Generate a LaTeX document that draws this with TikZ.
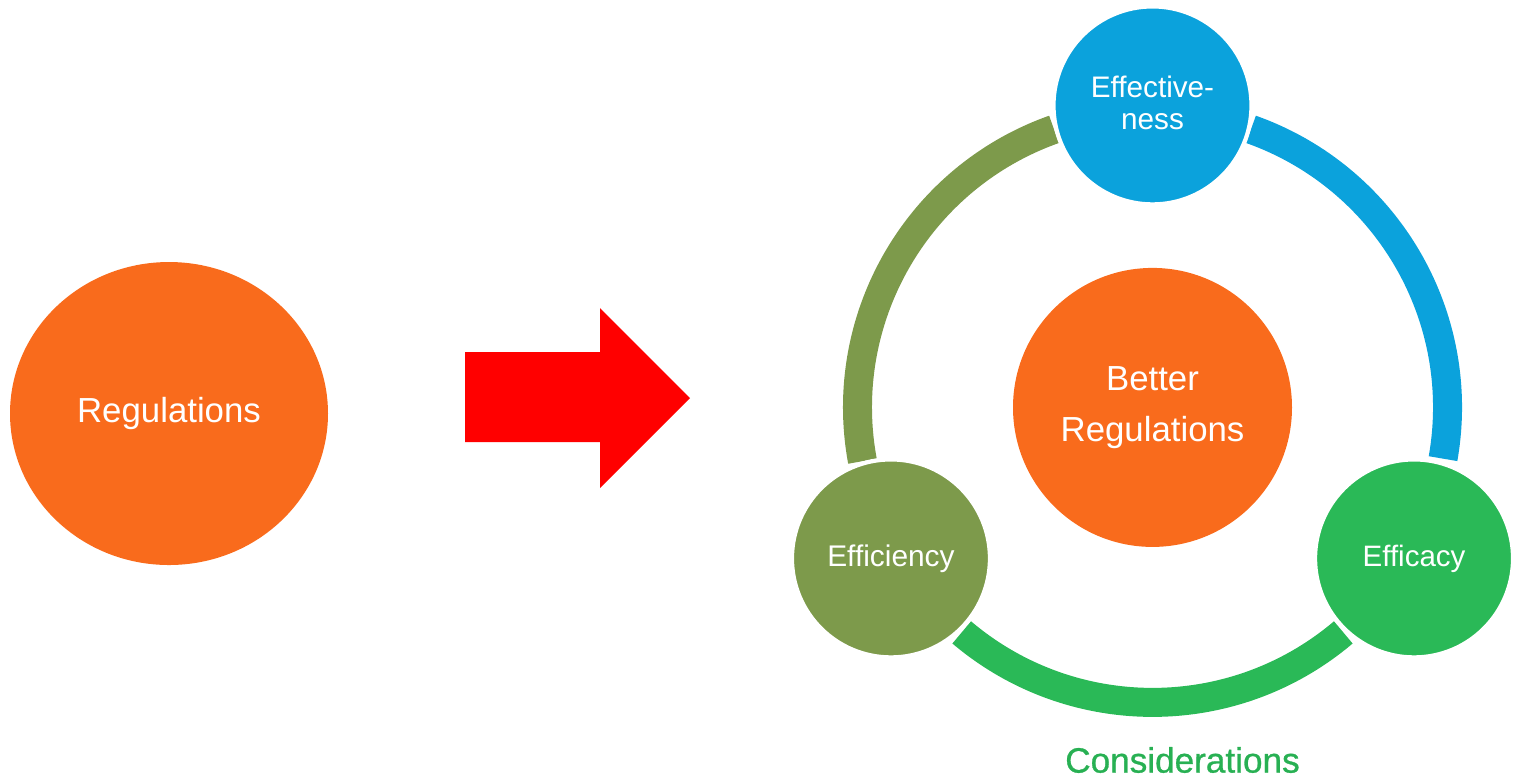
\documentclass[tikz,border=0pt]{standalone}
\usepackage{fontspec}
\setmainfont{Liberation Sans}
\newfontfamily\heavyfont[FakeBold=0.8]{Liberation Sans}
\usetikzlibrary{calc,shapes.geometric}
\definecolor{regorange}{HTML}{F96B1C}
\definecolor{effblue}{HTML}{0BA2DC}
\definecolor{effolive}{HTML}{7D9A4B}
\definecolor{effgreen}{HTML}{2AB957}
\tikzset{
	bubble/.style={circle, draw=white, line width=1.2pt, text=white, minimum size=1.98cm, inner sep=0pt, align=center},
	band/.style={line width=0.29cm},
}
\begin{document}
\begin{tikzpicture}
			%%%%% START %%%%%
			\useasboundingbox (0, 0) rectangle (15.15, -7.78);
			
			\node[ellipse, fill=regorange, minimum width=3.18cm, minimum height=3.03cm, text=white, font=\fontsize{9.9}{12}\selectfont] (regs) at (1.69, -4.135) {Regulations};
			
			\fill[red] (4.65, -3.52) -- (6.00, -3.52) -- (6.00, -3.08) -- (6.90, -3.98) -- (6.00, -4.88) -- (6.00, -4.42) -- (4.65, -4.42) -- cycle;
			
			\coordinate (ring) at (11.525, -4.074);
			\draw[band, color=effolive] ([shift={(109.5:2.95)}]ring) arc (109.5:190.5:2.95);
			\draw[band, color=effblue] ([shift={(-10:2.95)}]ring) arc (-10:70.5:2.95);
			\draw[band, color=effgreen] ([shift={(229.7:2.95)}]ring) arc (229.7:310.3:2.95);
			
			\node[circle, fill=regorange, minimum size=2.79cm, text=white, align=center, font=\fontsize{9.9}{14.5}\selectfont] (better) at (ring) {Better\\Regulations};
			
			\node[bubble, fill=effblue, font=\fontsize{8.45}{9.1}\selectfont] (effectiveness) at ($(ring)+(90:3.02)$) {\raisebox{1.3pt}{Effective-}\\\raisebox{1.3pt}{ness}};
			\node[bubble, fill=effolive, font=\fontsize{8.5}{10}\selectfont] (efficiency) at ($(ring)+(210:3.02)$) {Efficiency};
			\node[bubble, fill=effgreen, font=\fontsize{8.4}{10}\selectfont] (efficacy) at ($(ring)+(330:3.02)$) {Efficacy};
			
			\node[text=effgreen!95!black, font=\heavyfont\fontsize{10}{12}\selectfont] (considerations) at (11.825, -7.6) {Considerations};
			
			%%%%% END %%%%%
\end{tikzpicture}
\end{document}
